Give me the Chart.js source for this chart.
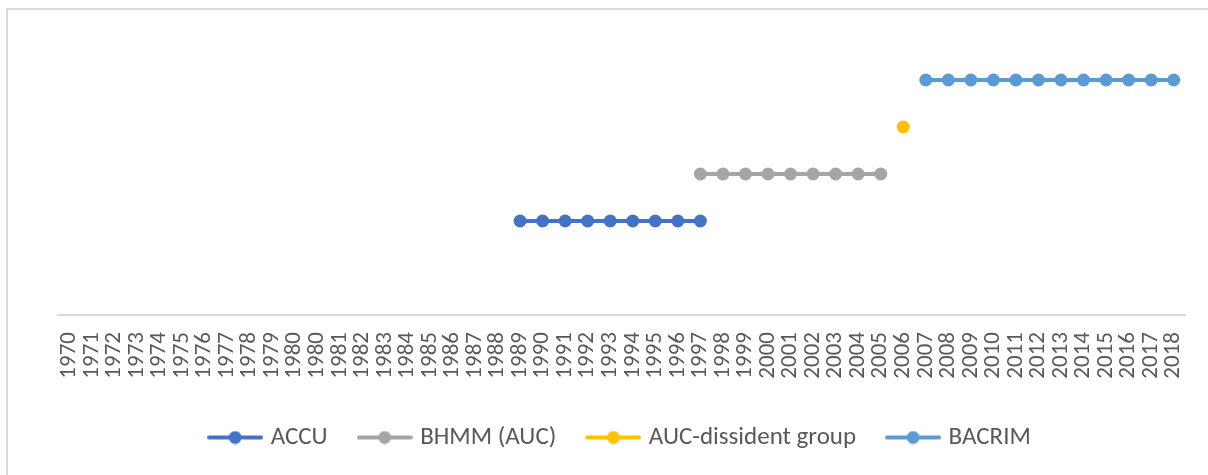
<!DOCTYPE html>
<html>
<head>
<meta charset="utf-8">
<script src="https://cdn.jsdelivr.net/npm/chart.js@4/dist/chart.umd.min.js"></script>
<style>
  html, body { margin: 0; padding: 0; background: #fff; overflow: hidden; }
  #wrap { position: relative; width: 1208px; height: 475px; overflow: hidden; }
  #frame { position: absolute; left: 6px; top: 8px; width: 1400px; height: 600px;
           border-left: 2px solid #d9d9d9; border-top: 2px solid #d9d9d9; }
  #chart { position: absolute; left: 0; top: 0; }
</style>
</head>
<body>
<div id="wrap">
  <div id="frame"></div>
  <canvas id="chart" width="1208" height="475"></canvas>
</div>
<script>
// Year labels (the source sheet lists 1980 twice)
const years = [
  '1970', '1971', '1972', '1973', '1974', '1975', '1976', '1977', '1978', '1979',
  '1980', '1980', '1981', '1982', '1983', '1984', '1985', '1986', '1987', '1988',
  '1989', '1990', '1991', '1992', '1993', '1994', '1995', '1996', '1997', '1998',
  '1999', '2000', '2001', '2002', '2003', '2004', '2005', '2006', '2007', '2008',
  '2009', '2010', '2011', '2012', '2013', '2014', '2015', '2016', '2017', '2018'
];

const _ = null;

// rows of 10, lined up with the labels above
const accu = [
  _, _, _, _, _, _, _, _, _, _,
  _, _, _, _, _, _, _, _, _, _,
  2, 2, 2, 2, 2, 2, 2, 2, 2, _,
  _, _, _, _, _, _, _, _, _, _,
  _, _, _, _, _, _, _, _, _, _
];
const bhmm = [
  _, _, _, _, _, _, _, _, _, _,
  _, _, _, _, _, _, _, _, _, _,
  _, _, _, _, _, _, _, _, 3, 3,
  3, 3, 3, 3, 3, 3, 3, _, _, _,
  _, _, _, _, _, _, _, _, _, _
];
const aucDissident = [
  _, _, _, _, _, _, _, _, _, _,
  _, _, _, _, _, _, _, _, _, _,
  _, _, _, _, _, _, _, _, _, _,
  _, _, _, _, _, _, _, 4, _, _,
  _, _, _, _, _, _, _, _, _, _
];
const bacrim = [
  _, _, _, _, _, _, _, _, _, _,
  _, _, _, _, _, _, _, _, _, _,
  _, _, _, _, _, _, _, _, _, _,
  _, _, _, _, _, _, _, _, 5, 5,
  5, 5, 5, 5, 5, 5, 5, 5, 5, 5
];

const seriesNames  = ['ACCU', 'BHMM (AUC)', 'AUC-dissident group', 'BACRIM'];
const seriesColors = ['#4472C4', '#A5A5A5', '#FFC000', '#5B9BD5'];
const seriesData   = [accu, bhmm, aucDissident, bacrim];

// small "line with a dot" swatch for the legend
function legendSwatch(color) {
  const c = document.createElement('canvas');
  c.width = 56; c.height = 14;
  const g = c.getContext('2d');
  g.strokeStyle = color;
  g.lineWidth = 4;
  g.lineCap = 'round';
  g.beginPath(); g.moveTo(2, 7); g.lineTo(54, 7); g.stroke();
  g.fillStyle = color;
  g.beginPath(); g.arc(28, 7, 6.5, 0, Math.PI * 2); g.fill();
  return c;
}
const swatches = seriesColors.map(legendSwatch);

const LEGEND_PAD = 34;
const LEGEND_FONT = 25;

new Chart(document.getElementById('chart'), {
  type: 'line',
  data: {
    labels: years,
    datasets: seriesNames.map((name, i) => ({
      label: name,
      data: seriesData[i],
      borderColor: seriesColors[i],
      backgroundColor: seriesColors[i],
      borderWidth: 4,
      pointRadius: 6.5,
      pointHoverRadius: 6.5,
      pointBorderWidth: 0,
      spanGaps: false,
      tension: 0,
    })),
  },
  options: {
    responsive: false,
    animation: false,
    layout: { padding: { left: 58, right: 23, top: 33, bottom: 15 } },
    plugins: {
      tooltip: { enabled: false },
      legend: {
        position: 'bottom',
        labels: {
          usePointStyle: true,
          pointStyleWidth: 46,
          padding: LEGEND_PAD,
          color: '#595959',
          font: { family: 'Carlito, "Liberation Sans", sans-serif', size: LEGEND_FONT },
          generateLabels: chart => Chart.defaults.plugins.legend.labels.generateLabels(chart)
            .map((item, i) => Object.assign(item, { pointStyle: swatches[i], lineWidth: 0 })),
        },
      },
    },
    scales: {
      x: {
        offset: true,
        grid: { display: false, drawTicks: false },
        border: { color: '#d9d9d9', width: 2 },
        ticks: {
          autoSkip: false,
          minRotation: 90,
          maxRotation: 90,
          padding: 17,
          color: '#595959',
          font: { family: 'Carlito, "Liberation Sans", sans-serif', size: 23 },
        },
        // keep the axis at a fixed height and stop the end labels from narrowing the plot
        afterFit: scale => {
          scale.height = 475 - 15 - 315 - (LEGEND_FONT + LEGEND_PAD + 10);
          scale.paddingLeft = 0;
          scale.paddingRight = 0;
        },
      },
      y: {
        display: false,
        min: 0,
        max: 6,
      },
    },
  },
});
</script>
</body>
</html>
